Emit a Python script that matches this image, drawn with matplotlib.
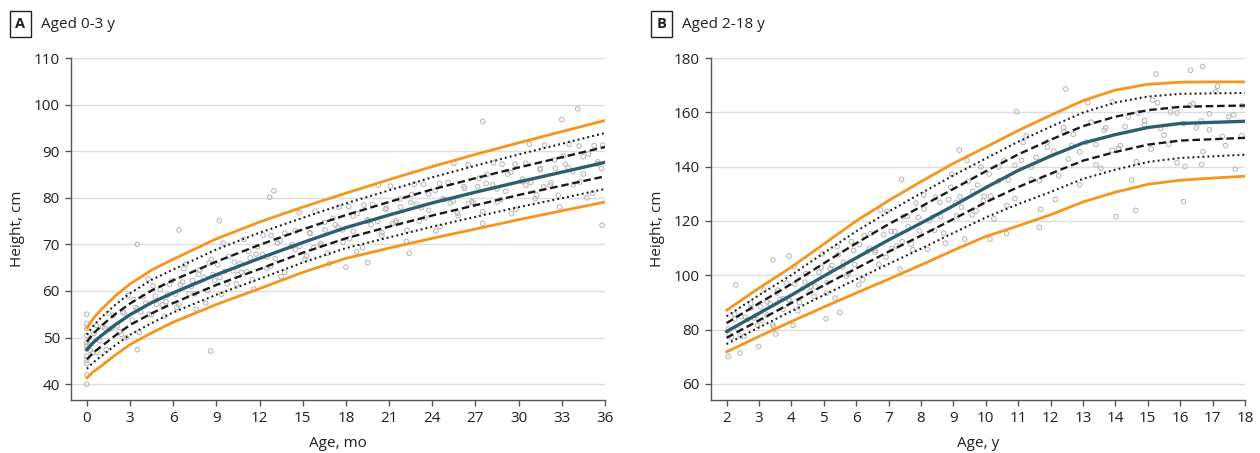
import numpy as np
import matplotlib
matplotlib.use('Agg')
import matplotlib.pyplot as plt

plt.rcParams['font.family'] = ['Open Sans', 'DejaVu Sans']

# Панель A: 0-3 роки (місяці)
ages_a = [0, 0.5, 1, 2, 3, 4.5, 6, 9, 12, 15, 18, 21, 24, 27, 30, 33, 36]
a_p_hi = [52.0, 54.3, 56.0, 59.0, 61.5, 64.5, 66.8, 71.2, 74.8, 78.0, 81.0, 83.9, 86.7, 89.3, 91.8, 94.2, 96.6]
a_dot_hi = [50.6, 52.7, 54.3, 57.1, 59.5, 62.4, 64.6, 68.9, 72.5, 75.7, 78.8, 81.6, 84.4, 86.9, 89.3, 91.6, 93.9]
a_dash_hi = [49.1, 51.0, 52.5, 55.1, 57.3, 60.1, 62.3, 66.3, 69.9, 73.2, 76.3, 79.1, 81.8, 84.2, 86.5, 88.7, 90.9]
a_med = [47.4, 49.1, 50.4, 52.8, 54.9, 57.5, 59.6, 63.5, 67.0, 70.4, 73.6, 76.3, 78.9, 81.2, 83.4, 85.5, 87.6]
a_dash_lo = [45.3, 46.9, 48.1, 50.5, 52.7, 55.2, 57.4, 61.3, 64.7, 68.2, 71.3, 73.8, 76.2, 78.4, 80.6, 82.6, 84.6]
a_dot_lo = [43.3, 44.8, 46.0, 48.4, 50.6, 53.1, 55.4, 59.2, 62.6, 66.1, 69.2, 71.5, 73.8, 75.9, 78.0, 79.9, 81.9]
a_p_lo = [41.3, 42.8, 43.9, 46.3, 48.5, 51.0, 53.3, 57.1, 60.5, 64.0, 67.0, 69.2, 71.3, 73.3, 75.3, 77.2, 79.1]

pts_a_age = [0] * 12 + [
    0.15, 0.4, 0.65, 0.9, 1.1, 1.35, 1.6, 1.85, 2.1, 2.4, 2.6, 2.85,
    3.15, 3.4, 3.65, 3.9, 4.1, 4.35, 4.6, 4.85, 5.1, 5.4, 5.6, 5.9,
    6.15, 6.4, 6.65, 6.9, 7.1, 7.35, 7.6, 7.85, 8.15, 8.4, 8.65, 8.9,
    9.1, 9.35, 9.6, 9.85, 10.15, 10.4, 10.65, 10.9, 11.1, 11.35, 11.6, 11.85,
    12.2, 12.5, 12.8, 13.1, 13.45, 13.75, 14.2, 14.5, 14.8, 15.15, 15.5, 15.85,
    16.2, 16.55, 16.85, 17.1, 17.45, 17.8, 18.2, 18.5, 18.8, 19.15, 19.5, 19.85,
    20.2, 20.5, 20.8, 21.1, 21.45, 21.8, 22.2, 22.55, 22.9, 23.1, 23.4, 23.75,
    24.2, 24.55, 24.85, 25.1, 25.45, 25.8, 26.2, 26.5, 26.85, 27.15, 27.5, 27.8,
    28.2, 28.5, 28.85, 29.1, 29.45, 29.8, 30.2, 30.5, 30.85, 31.15, 31.5, 31.8,
    32.2, 32.55, 32.85, 33.1, 33.45, 33.8, 34.2, 34.5, 34.85, 35.15, 35.5, 35.85,
    6.4, 3.5, 9.2, 13.0, 12.7, 8.6, 3.5, 27.5, 34.1, 33.0, 35.8, 22.4, 18.0, 19.5]
pts_a_h = [47.5, 49.0, 46.0, 50.5, 44.5, 52.0, 48.2, 45.2, 55.0, 40.0, 42.0, 53.0,
    48.5, 46.7, 52.6, 49.3, 52.3, 47.4, 51.8, 54.8, 52.5, 50.7, 55.3, 59.0,
    53.7, 56.4, 51.1, 58.8, 57.4, 55.0, 61.1, 57.1, 60.3, 54.6, 59.1, 62.2,
    59.3, 57.0, 61.9, 65.8, 59.4, 62.2, 56.1, 64.5, 63.0, 60.1, 66.7, 62.3,
    65.6, 59.3, 64.2, 67.4, 64.3, 61.5, 65.9, 71.1, 64.1, 67.1, 60.4, 69.5,
    67.8, 64.8, 71.9, 66.9, 70.8, 64.0, 69.5, 72.9, 69.6, 66.8, 72.5, 77.1,
    69.8, 73.1, 65.9, 75.6, 73.7, 70.5, 78.1, 72.8, 76.6, 69.3, 75.0, 78.6,
    74.9, 71.9, 77.8, 82.5, 74.7, 78.0, 70.6, 80.7, 78.6, 75.0, 82.9, 77.3,
    81.5, 73.8, 79.6, 83.3, 79.3, 76.1, 82.4, 87.1, 79.0, 82.4, 74.5, 85.0,
    82.8, 79.1, 87.2, 81.4, 85.5, 77.5, 83.5, 87.4, 83.3, 79.8, 86.3, 91.3,
    82.7, 86.3, 78.0, 88.9, 86.5, 82.8, 91.1, 85.1, 89.4, 81.0, 87.3, 91.3,
    73.1, 70.0, 75.1, 81.5, 80.1, 47.1, 47.4, 96.4, 99.1, 96.8, 74.1, 68.1, 65.1, 66.1]

pts_a2_age = [
    0.25, 0.5, 0.75, 1.25, 1.5, 1.75, 2.25, 2.5, 2.75, 3.25, 3.5, 3.75,
    4.25, 4.5, 4.75, 5.25, 5.5, 5.75, 6.25, 6.5, 6.75, 7.25, 7.5, 7.75,
    8.25, 8.5, 8.75, 9.25, 9.5, 9.75, 10.25, 10.5, 10.75, 11.25, 11.5, 11.75,
    12.25, 12.5, 12.75, 13.25, 13.5, 13.75, 14.25, 14.5, 14.75, 15.25, 15.5, 15.75,
    16.25, 16.5, 16.75, 17.25, 17.5, 17.75, 18.25, 18.5, 18.75, 19.25, 19.5, 19.75,
    20.25, 20.5, 20.75, 21.25, 21.5, 21.75, 22.25, 22.5, 22.75, 23.25, 23.5, 23.75,
    24.25, 24.5, 24.75, 25.25, 25.5, 25.75, 26.25, 26.5, 26.75, 27.25, 27.5, 27.75,
    28.25, 28.5, 28.75, 29.25, 29.5, 29.75, 30.25, 30.5, 30.75, 31.25, 31.5, 31.75,
    32.25, 32.5, 32.75, 33.25, 33.5, 33.75, 34.25, 34.5, 34.75, 35.25, 35.5, 35.75]
pts_a2_h = [
    47.2, 50.9, 46.8, 52.0, 55.2, 52.0, 51.3, 55.4, 50.0, 58.2, 56.1, 55.5,
    62.6, 54.9, 58.9, 57.0, 57.7, 61.4, 56.5, 61.4, 64.8, 61.0, 59.4, 63.6,
    57.4, 66.0, 63.5, 62.9, 70.2, 61.5, 66.2, 63.5, 64.0, 68.5, 62.4, 67.9,
    72.0, 67.3, 65.3, 70.3, 63.1, 72.4, 69.9, 68.9, 76.8, 67.5, 72.3, 69.3,
    70.2, 74.7, 68.1, 74.2, 78.0, 73.1, 71.2, 76.1, 68.4, 78.4, 75.3, 74.2,
    82.7, 72.5, 77.5, 74.5, 75.1, 79.7, 73.0, 79.0, 82.9, 77.9, 75.7, 80.8,
    72.9, 83.1, 79.8, 78.9, 87.4, 76.7, 82.0, 78.7, 79.2, 84.2, 77.0, 83.1,
    87.5, 81.9, 79.6, 85.1, 76.6, 87.2, 84.0, 82.7, 91.5, 80.6, 86.0, 82.4,
    83.2, 88.1, 80.5, 87.2, 91.5, 85.6, 83.4, 88.8, 80.0, 91.2, 87.7, 86.3]

# Панель B: 2-18 років
ages_b = [2, 3, 4, 5, 6, 7, 8, 9, 10, 11, 12, 13, 14, 15, 16, 17, 18]
b_p_hi = [87.1, 95.3, 103.0, 111.5, 120.0, 127.5, 134.5, 141.2, 147.2, 153.3, 158.9, 164.3, 168.2, 170.3, 171.1, 171.2, 171.2]
b_dot_hi = [84.9, 92.7, 100.1, 108.2, 116.2, 123.4, 130.2, 136.8, 143.0, 149.2, 154.7, 159.9, 163.6, 165.8, 166.8, 167.0, 167.1]
b_dash_hi = [82.4, 89.7, 96.8, 104.4, 111.8, 118.8, 125.3, 131.8, 138.3, 144.5, 149.9, 154.9, 158.4, 160.8, 162.0, 162.3, 162.5]
b_med = [79.3, 86.0, 92.7, 99.7, 106.4, 113.0, 119.2, 125.6, 132.3, 138.6, 143.9, 148.7, 151.8, 154.4, 155.9, 156.3, 156.7]
b_dash_lo = [77.0, 83.4, 89.8, 96.3, 102.5, 108.7, 114.6, 120.7, 126.9, 132.5, 137.4, 142.2, 145.4, 148.1, 149.6, 150.1, 150.6]
b_dot_lo = [74.7, 80.8, 86.8, 92.7, 98.5, 104.2, 109.8, 115.6, 121.3, 126.2, 130.7, 135.5, 138.9, 141.7, 143.2, 143.8, 144.4]
b_p_lo = [71.8, 77.5, 83.0, 88.3, 93.5, 98.6, 103.8, 109.2, 114.3, 118.2, 122.3, 127.0, 130.6, 133.5, 135.0, 135.8, 136.5]

pts_b_age = [
    2.05, 2.15, 2.25, 2.35, 2.45, 2.55, 2.65, 2.75, 2.85, 2.95,
    3.05, 3.15, 3.25, 3.35, 3.45, 3.55, 3.65, 3.75, 3.85, 3.95,
    4.1, 4.2, 4.35, 4.45, 4.6, 4.7, 4.85, 4.95,
    5.1, 5.2, 5.35, 5.45, 5.6, 5.7, 5.85, 5.95,
    6.1, 6.2, 6.35, 6.45, 6.6, 6.7, 6.85, 6.95,
    7.1, 7.2, 7.35, 7.45, 7.6, 7.7, 7.85, 7.95,
    8.1, 8.2, 8.35, 8.45, 8.6, 8.7, 8.85, 8.95,
    9.1, 9.2, 9.35, 9.45, 9.6, 9.7, 9.85, 9.95,
    10.1, 10.25, 10.4, 10.55, 10.7, 10.9,
    11.1, 11.25, 11.4, 11.55, 11.7, 11.9,
    12.1, 12.25, 12.4, 12.55, 12.7, 12.9,
    13.1, 13.25, 13.4, 13.55, 13.7, 13.9,
    14.1, 14.3, 14.5, 14.7, 14.9, 15.1, 15.3, 15.5, 15.7, 15.9,
    16.1, 16.3, 16.5, 16.7, 16.9, 17.1, 17.3, 17.5, 17.7, 17.9,
    9.18, 7.40, 2.28, 2.42, 2.99, 5.07, 5.50, 3.52, 3.43, 3.93,
    16.69, 16.32, 15.25, 12.47, 11.65, 10.95, 16.1, 14.63, 14.02, 10.13, 10.64, 16.66, 2.05, 4.05]
pts_b_h = [
    80.3, 77.2, 85.7, 80.2, 84.8, 77.6, 83.7, 87.9, 84.3, 81.6,
    88.4, 94.6, 85.4, 89.6, 81.2, 93.5, 91.2, 87.5, 97.2, 90.8,
    96.7, 86.9, 95.2, 100.6, 96.0, 92.2, 101.1, 107.9,
    97.3, 102.6, 91.6, 107.6, 104.8, 99.7, 112.4, 104.0,
    111.3, 98.4, 108.7, 115.4, 109.2, 104.0, 115.0, 123.5,
    109.8, 116.1, 102.4, 121.6, 118.0, 111.5, 126.6, 116.3,
    124.4, 109.6, 121.4, 128.7, 121.6, 115.5, 127.9, 137.2,
    121.9, 128.9, 113.3, 134.5, 130.9, 123.7, 139.9, 129.1,
    137.3, 120.8, 134.8, 142.2, 135.1, 128.2,
    142.3, 151.3, 135.3, 143.4, 124.3, 149.1,
    145.7, 136.7, 154.3, 142.8, 151.9, 133.3,
    149.0, 156.4, 148.1, 139.4, 154.3, 163.8,
    146.7, 154.7, 135.1, 159.8, 155.5, 146.5, 163.5, 151.6, 160.1, 141.4,
    155.9, 162.5, 154.3, 145.5, 159.5, 167.6, 151.1, 158.4, 139.1, 162.4,
    146.1, 135.3, 96.5, 71.4, 73.8, 84.0, 86.3, 78.4, 105.7, 107.1,
    176.9, 175.5, 174.1, 168.6, 117.6, 160.2, 127.1, 123.9, 121.6, 113.3, 115.4, 140.8, 70.1, 81.6]

pts_b2_age = [
    2.08, 2.25, 2.42, 2.58, 2.75, 2.92, 3.08, 3.25, 3.42, 3.58, 3.75, 3.92,
    4.08, 4.25, 4.42, 4.58, 4.75, 4.92, 5.08, 5.25, 5.42, 5.58, 5.75, 5.92,
    6.08, 6.25, 6.42, 6.58, 6.75, 6.92, 7.08, 7.25, 7.42, 7.58, 7.75, 7.92,
    8.08, 8.25, 8.42, 8.58, 8.75, 8.92, 9.08, 9.25, 9.42, 9.58, 9.75, 9.92,
    10.15, 10.4, 10.65, 10.9, 11.15, 11.4, 11.65, 11.9, 12.15, 12.4, 12.65, 12.9,
    13.15, 13.4, 13.65, 13.9, 14.15, 14.4, 14.65, 14.9, 15.15, 15.4, 15.65, 15.9,
    16.15, 16.4, 16.65, 16.9, 17.15, 17.4, 17.65, 17.9]
pts_b2_h = [
    78.1, 83.9, 77.7, 84.6, 89.7, 85.2, 83.4, 90.2, 81.8, 94.5, 91.4, 91.0,
    103.2, 90.0, 97.5, 94.1, 95.8, 102.9, 93.4, 103.6, 110.6, 103.1, 100.5, 109.1,
    96.5, 114.7, 109.8, 108.5, 124.0, 106.7, 116.1, 110.8, 112.4, 121.7, 109.4, 121.3,
    129.6, 120.1, 116.5, 126.9, 111.8, 132.4, 126.8, 125.1, 142.3, 122.2, 133.2, 127.4,
    129.1, 139.9, 125.7, 140.5, 148.9, 139.8, 134.8, 147.2, 127.9, 153.0, 147.7, 145.4,
    163.6, 140.7, 153.4, 146.0, 147.7, 158.3, 141.8, 156.9, 164.5, 154.1, 148.2, 159.8,
    140.0, 163.2, 156.8, 153.6, 169.6, 147.8, 159.1, 151.4]

orange = '#F7941D'
teal = '#2C5F6C'
txt = '#231f20'

fig = plt.figure(figsize=(12.6, 4.53), dpi=100)
ax_a = fig.add_axes([71 / 1260, 1 - 400 / 453, 534 / 1260, 342 / 453])
ax_b = fig.add_axes([711 / 1260, 1 - 400 / 453, 534 / 1260, 342 / 453])


def draw(ax, ages, curves, px, py):
    ax.scatter(px, py, s=11, facecolors='none', edgecolors='#b4b4b4', linewidths=0.7, zorder=2)
    hi, dot_hi, dash_hi, med, dash_lo, dot_lo, lo = curves
    ax.plot(ages, hi, color=orange, lw=2.0, zorder=3, solid_capstyle='round')
    ax.plot(ages, lo, color=orange, lw=2.0, zorder=3, solid_capstyle='round')
    ax.plot(ages, dot_hi, color='#1a1a1a', lw=1.5, linestyle=(0, (0.9, 1.5)), zorder=3)
    ax.plot(ages, dot_lo, color='#1a1a1a', lw=1.5, linestyle=(0, (0.9, 1.5)), zorder=3)
    ax.plot(ages, dash_hi, color='#1a1a1a', lw=1.7, linestyle=(0, (3.2, 1.6)), zorder=3)
    ax.plot(ages, dash_lo, color='#1a1a1a', lw=1.7, linestyle=(0, (3.2, 1.6)), zorder=3)
    ax.plot(ages, med, color=teal, lw=2.4, zorder=4, solid_capstyle='round')
    ax.grid(axis='y', color='#dddddd', lw=1.0, zorder=0)
    ax.set_axisbelow(True)
    for s in ['top', 'right']:
        ax.spines[s].set_visible(False)
    for s in ['left', 'bottom']:
        ax.spines[s].set_color('#555555')
        ax.spines[s].set_linewidth(1.0)
    ax.tick_params(direction='out', length=4, width=1, color='#555555', labelsize=11, labelcolor=txt, pad=4)
    ax.set_ylabel('Height, cm', fontsize=11, color=txt, labelpad=6)


draw(ax_a, ages_a, [a_p_hi, a_dot_hi, a_dash_hi, a_med, a_dash_lo, a_dot_lo, a_p_lo],
     pts_a_age + pts_a2_age, pts_a_h + pts_a2_h)
ax_a.set_xlim(-1.1, 36)
ax_a.set_ylim(36.6, 110)
ax_a.set_xticks(range(0, 37, 3))
ax_a.set_yticks(range(40, 111, 10))
ax_a.set_xlabel('Age, mo', fontsize=11, color=txt, labelpad=7)

draw(ax_b, ages_b, [b_p_hi, b_dot_hi, b_dash_hi, b_med, b_dash_lo, b_dot_lo, b_p_lo],
     pts_b_age + pts_b2_age, pts_b_h + pts_b2_h)
ax_b.set_xlim(1.52, 18)
ax_b.set_ylim(54.1, 180)
ax_b.set_xticks(range(2, 19))
ax_b.set_yticks(range(60, 181, 20))
ax_b.set_xlabel('Age, y', fontsize=11, color=txt, labelpad=7)

box = dict(boxstyle='square,pad=0.38', facecolor='white', edgecolor='#231f20', lw=1.0)
fig.text(20.5 / 1260, 1 - 24 / 453, 'A', fontsize=10.5, fontweight='bold', ha='center', va='center', color=txt, bbox=box)
fig.text(41 / 1260, 1 - 24 / 453, 'Aged 0-3 y', fontsize=11, ha='left', va='center', color=txt)
fig.text(661.5 / 1260, 1 - 24 / 453, 'B', fontsize=10.5, fontweight='bold', ha='center', va='center', color=txt, bbox=box)
fig.text(682 / 1260, 1 - 24 / 453, 'Aged 2-18 y', fontsize=11, ha='left', va='center', color=txt)

fig.savefig('out.png', dpi=100)
